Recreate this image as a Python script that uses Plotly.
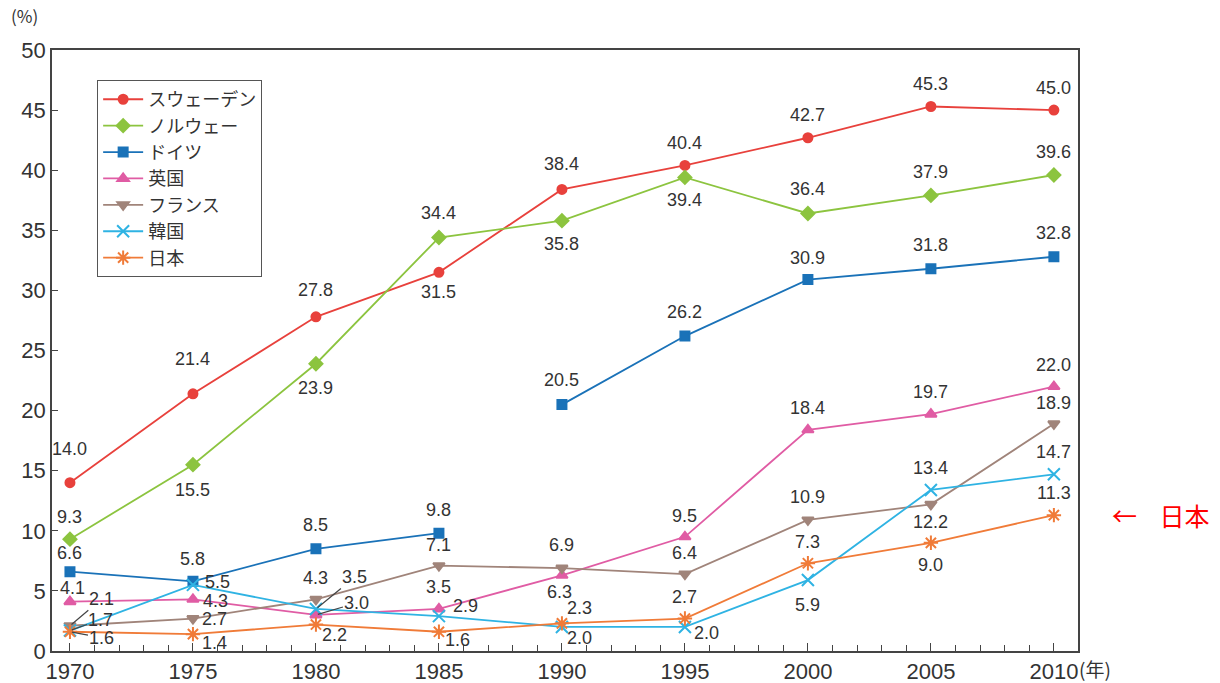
import plotly.graph_objects as go

# Female share of seats in national parliaments, selected countries (%)
years = [1970, 1975, 1980, 1985, 1990, 1995, 2000, 2005, 2010]
sweden = [14.0, 21.4, 27.8, 31.5, 38.4, 40.4, 42.7, 45.3, 45.0]
norway = [9.3, 15.5, 23.9, 34.4, 35.8, 39.4, 36.4, 37.9, 39.6]
germany_years_west = [1970, 1975, 1980, 1985]
germany_west = [6.6, 5.8, 8.5, 9.8]
germany_years_unified = [1990, 1995, 2000, 2005, 2010]
germany_unified = [20.5, 26.2, 30.9, 31.8, 32.8]
uk = [4.1, 4.3, 3.0, 3.5, 6.3, 9.5, 18.4, 19.7, 22.0]
france = [2.1, 2.7, 4.3, 7.1, 6.9, 6.4, 10.9, 12.2, 18.9]
korea = [1.7, 5.5, 3.5, 2.9, 2.0, 2.0, 5.9, 13.4, 14.7]
japan = [1.6, 1.4, 2.2, 1.6, 2.3, 2.7, 7.3, 9.0, 11.3]

names = ["スウェーデン", "ノルウェー", "ドイツ", "英国", "フランス", "韓国", "日本"]

FONT = "Liberation Sans, Arial, sans-serif"
JFONT = "Noto Sans CJK JP, sans-serif"
TXT = "#333333"

styles = {
    "スウェーデン": dict(color="#e8413c", symbol="circle", size=9),
    "ノルウェー": dict(color="#8cc43f", symbol="diamond", size=10),
    "ドイツ": dict(color="#1a72b8", symbol="square", size=9),
    "英国": dict(color="#e05ca4", symbol="triangle-up", size=10),
    "フランス": dict(color="#a0847a", symbol="triangle-down", size=10),
    "韓国": dict(color="#2fb3e3", symbol="x-thin-open", size=12),
    "日本": dict(color="#f07b38", symbol="asterisk-open", size=12),
}

# label offsets (text centre relative to the point, px); "L" = draw leader line
label_offsets = {
    "スウェーデン": [(0, -34), (0, -35), (0, -27), (0, 20), (0, -25), (0, -22), (0, -23), (0, -22), (0, -22)],
    "ノルウェー": [(0, -22), (0, 25), (0, 24), (0, -25), (0, 23), (0, 23), (0, -24), (0, -23), (0, -23)],
    "ドイツ": [(0, -19), (0, -22), (0, -24), (0, -23), (0, -25), (0, -24), (0, -22), (0, -24), (0, -24)],
    "英国": [(3, -14), (23, 2), (41, -12, "L"), (0, -22), (-2, 17), (0, -21), (0, -22), (0, -22), (0, -22)],
    "フランス": [(32, -27, "L"), (22, 0), (0, -21), (0, -21), (0, -23), (0, -21), (0, -23), (0, 18), (0, -21)],
    "韓国": [(31, -11, "L"), (25, -3), (39, -32, "L"), (27, -10), (18, 11), (22, 6), (0, 25), (0, -22), (0, -22)],
    "日本": [(32, 6, "L"), (22, 9), (19, 10), (19, 8), (18, -15), (0, -22), (0, -21), (0, 22), (0, -22)],
}

fig = go.Figure()


def add_series(name, xs, ys, show_legend=True):
    st = styles[name]
    marker_line = dict(width=2, color=st["color"])
    fig.add_trace(go.Scatter(
        x=xs, y=ys, name=name, mode="lines+markers", showlegend=show_legend,
        legendgroup=name,
        line=dict(color=st["color"], width=1.8),
        marker=dict(symbol=st["symbol"], size=st["size"], color=st["color"], line=marker_line),
    ))


series = [
    ("スウェーデン", years, sweden),
    ("ノルウェー", years, norway),
    ("ドイツ", germany_years_west, germany_west),
    ("英国", years, uk),
    ("フランス", years, france),
    ("韓国", years, korea),
    ("日本", years, japan),
]
for name, xs, ys in series:
    add_series(name, xs, ys)
add_series("ドイツ", germany_years_unified, germany_unified, show_legend=False)

# value labels
label_data = {
    "スウェーデン": (years, sweden),
    "ノルウェー": (years, norway),
    "ドイツ": (germany_years_west + germany_years_unified, germany_west + germany_unified),
    "英国": (years, uk),
    "フランス": (years, france),
    "韓国": (years, korea),
    "日本": (years, japan),
}
for name, (xs, ys) in label_data.items():
    for x, y, off in zip(xs, ys, label_offsets[name]):
        leader = len(off) > 2
        fig.add_annotation(
            x=x, y=y, xref="x", yref="y", text=f"{y:.1f}",
            showarrow=True, ax=off[0], ay=off[1], axref="pixel", ayref="pixel",
            arrowhead=0, arrowwidth=1.2,
            arrowcolor="#444444" if leader else "rgba(0,0,0,0)",
            standoff=2 if leader else 0,
            font=dict(family=FONT, size=18, color=TXT),
            xanchor="center", yanchor="middle",
        )

# unit captions
fig.add_annotation(x=-0.012, y=1.057, xref="paper", yref="paper", text="(%)",
                   showarrow=False, xanchor="right", yanchor="middle",
                   font=dict(family=JFONT, size=17, color=TXT))
fig.add_annotation(x=0.999, y=-0.029, xref="paper", yref="paper", text="(年)",
                   showarrow=False, xanchor="left", yanchor="middle",
                   font=dict(family=JFONT, size=19, color=TXT))
fig.add_annotation(x=1.031, y=japan[-1], xref="paper", yref="y",
                   text="←\u00a0\u00a0\u00a0\u00a0日本",
                   showarrow=False, xanchor="left", yanchor="middle",
                   font=dict(family=JFONT, size=25, color="#ff0000"))

fig.update_layout(
    width=1220, height=683,
    margin=dict(l=52, r=142, t=50, b=32),
    paper_bgcolor="white", plot_bgcolor="white",
    font=dict(family=FONT, color=TXT),
    legend=dict(
        x=0.044, y=0.95, xanchor="left", yanchor="top",
        bgcolor="white", bordercolor="#555555", borderwidth=1,
        font=dict(family=JFONT, size=18, color=TXT),
        itemwidth=40, tracegroupgap=0,
    ),
    xaxis=dict(
        range=[1969.27, 2010.98], tickmode="linear", tick0=1970, dtick=5,
        ticks="inside", ticklen=8, tickcolor="#444444",
        minor=dict(dtick=1, ticks="inside", ticklen=6, tickcolor="#444444"),
        showgrid=False, zeroline=False, automargin=False,
        showline=True, linecolor="#444444", linewidth=1.5, mirror=True,
        tickfont=dict(family=FONT, size=22, color=TXT),
    ),
    yaxis=dict(
        range=[0, 50], tickmode="linear", tick0=0, dtick=5,
        ticks="inside", ticklen=6, tickcolor="#444444",
        showgrid=False, zeroline=False, automargin=False,
        showline=True, linecolor="#444444", linewidth=1.5, mirror=True,
        tickfont=dict(family=FONT, size=22, color=TXT),
    ),
)

fig.write_html("out.html")
